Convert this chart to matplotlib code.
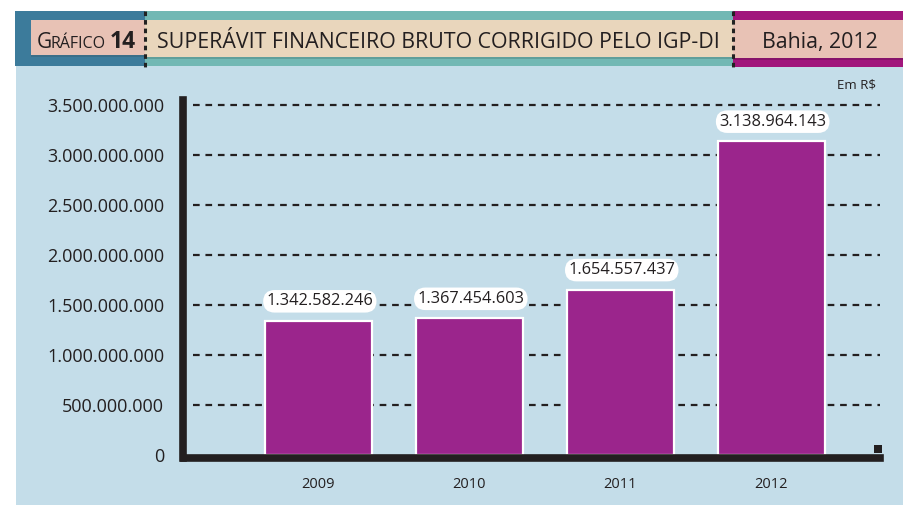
import matplotlib.pyplot as plt
from matplotlib.patches import Rectangle
from matplotlib.lines import Line2D

plt.rcParams['font.family'] = ['Open Sans', 'DejaVu Sans']

years = ["2009", "2010", "2011", "2012"]
values = [1342582246, 1367454603, 1654557437, 3138964143]
value_labels = ["1.342.582.246", "1.367.454.603", "1.654.557.437", "3.138.964.143"]
yticks = [0, 500e6, 1000e6, 1500e6, 2000e6, 2500e6, 3000e6, 3500e6]
ytick_labels = ["0", "500.000.000", "1.000.000.000", "1.500.000.000", "2.000.000.000",
                "2.500.000.000", "3.000.000.000", "3.500.000.000"]

W, H = 904, 505
fig = plt.figure(figsize=(W / 100, H / 100), dpi=100)
fig.patch.set_facecolor("white")


def box(x0, y0, x1, y1, color, z=-5):
    # pixel coords (top-left origin) -> figure fraction
    r = Rectangle((x0 / W, 1 - y1 / H), (x1 - x0) / W, (y1 - y0) / H,
                  transform=fig.transFigure, facecolor=color, edgecolor="none", zorder=z)
    fig.patches.append(r)


def ftext(x, y, s, **kw):
    fig.text(x / W, 1 - y / H, s, **kw)


# background panel + header
box(16, 66, 904, 505, "#c4dde9", z=-10)
box(15, 11, 145, 66, "#3c7b9b")
box(145, 11, 733, 66, "#72b8b4")
box(733, 11, 904, 67, "#a1167c")
box(31, 21, 145, 56.5, "#3a6e88", z=-4)
box(145, 21, 733, 58.5, "#5f9f9b", z=-4)
box(733, 21, 904, 59.5, "#86126a", z=-4)
box(31, 20, 145, 55, "#e8c2b5", z=-3)
box(145, 20, 733, 57, "#e9d6bc", z=-3)
box(733, 20, 904, 58, "#e8c2b5", z=-3)

for xv in [145, 733]:
    fig.lines.append(Line2D([xv / W, xv / W], [1 - 11 / H, 1 - 67 / H], transform=fig.transFigure,
                            color="#222222", lw=2.2, linestyle=(0, (1.5, 1.3)), zorder=-2))

ftext(37, 48, "G", fontsize=15, color="#231f20", va="baseline", ha="left")
ftext(51, 48, "RÁFICO", fontsize=11.5, color="#231f20", va="baseline", ha="left")
ftext(110, 48, "14", fontsize=16.5, fontweight="bold", color="#231f20", va="baseline", ha="left")
ftext(157, 48, "SUPERÁVIT FINANCEIRO BRUTO CORRIGIDO PELO IGP-DI", fontsize=15.4,
      color="#231f20", va="baseline", ha="left")
ftext(820, 48, "Bahia, 2012", fontsize=15.4, color="#231f20", va="baseline", ha="center")
ftext(857, 85, "Em R$", fontsize=9.5, color="#231f20", va="center", ha="center")

# chart axes
ax = fig.add_axes([183.5 / W, 1 - 458 / H, (880 - 183.5) / W, (458 - 100) / H])
ax.set_facecolor("none")
ax.set_zorder(5)
x = list(range(len(years)))
ax.set_xlim(-0.894, 3.72)
ax.set_ylim(-30e6, 3550e6)

for yv in yticks[1:]:
    ax.plot([-0.83, 3.72], [yv, yv], color="#231f20", lw=1.6, linestyle=(0, (3, 2.6)), zorder=1)

ax.bar(x, values, width=0.71, color="#9b258c", edgecolor="white", linewidth=1.6, zorder=3)

for xi, v, lab in zip(x, values, value_labels):
    ax.annotate(lab, (xi, v), xytext=(1, 14), textcoords="offset points", ha="center", va="center",
                fontsize=11.8, color="#231f20", zorder=5,
                bbox=dict(boxstyle="round,pad=0.2,rounding_size=0.7", fc="white", ec="none"))

ax.set_xticks(x)
ax.set_xticklabels(years, fontsize=10.5, color="#231f20")
ax.set_yticks(yticks)
ax.set_yticklabels(ytick_labels, fontsize=13, color="#231f20")
ax.tick_params(axis="both", length=0)
ax.tick_params(axis="y", pad=14)
ax.tick_params(axis="x", pad=14)

for s in ["top", "right"]:
    ax.spines[s].set_visible(False)
for s in ["left", "bottom"]:
    ax.spines[s].set_color("#231f20")
    ax.spines[s].set_linewidth(5.5)
    ax.spines[s].set_zorder(6)

# small end marker at the right of the x axis
box(874, 445, 882, 453, "#231f20", z=6)

fig.savefig("out.png", dpi=100)
